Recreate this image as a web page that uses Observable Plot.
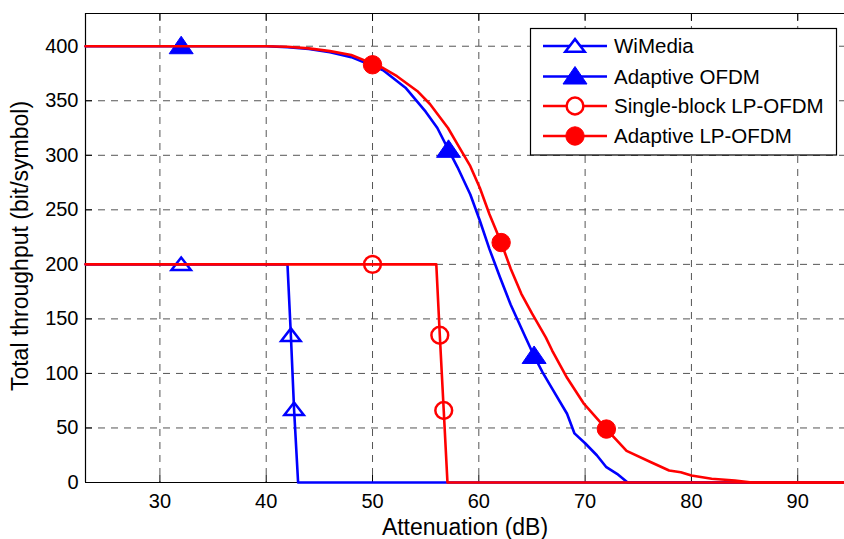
<!DOCTYPE html>
<html><head><meta charset="utf-8">
<script src="https://cdn.jsdelivr.net/npm/d3@7"></script>
<script src="https://cdn.jsdelivr.net/npm/@observablehq/plot@0.6"></script>
<style>
html,body{margin:0;padding:0;background:#fff;overflow:hidden;}
#wrap{position:relative;width:844px;height:539px;overflow:hidden;}
#legend{position:absolute;left:0;top:0;}
</style></head><body><div id="wrap"></div>
<script>
// ---- axes ----
const xDomain = [23, 94.4];
const yDomain = [0, 430];
const xTicks = [30, 40, 50, 60, 70, 80, 90];
const yTicks = [0, 50, 100, 150, 200, 250, 300, 350, 400];
const xLabel = "Attenuation (dB)";
const yLabel = "Total throughput (bit/symbol)";

// ---- series ----
const seriesNames = ["WiMedia", "Adaptive OFDM", "Single-block LP-OFDM", "Adaptive LP-OFDM"];
const seriesColors = ["#0000ff", "#0000ff", "#ff0000", "#ff0000"];
const seriesMarkers = ["triOpen", "triFilled", "circOpen", "circFilled"];

// WiMedia
const wimediaX = [23, 42, 42.32, 42.62, 43, 95];
const wimediaY = [200, 200, 135, 67, 0, 0];
const wimediaMarkX = [32, 42.32, 42.62];
const wimediaMarkY = [200, 135, 67];

// Adaptive OFDM
const adaptOfdmX = [23, 40, 42, 44, 46, 48, 50, 51, 53.1, 55, 56.1, 57.15, 58, 59.2, 60.1, 61, 62, 63, 64.4, 65.2, 66, 66.9, 68.3, 69, 70, 71.1, 72, 73, 74, 95];
const adaptOfdmY = [400, 400, 399, 397.5, 394.5, 390, 382, 378, 362, 340, 325, 305, 289, 264, 240, 214, 188, 163, 133, 116, 101, 86, 63, 45, 36, 25, 14, 8, 0, 0];
const adaptOfdmMarkX = [32, 57.15, 65.2];
const adaptOfdmMarkY = [400, 305, 116];

// Single-block LP-OFDM
const singleLpX = [23, 56, 56.33, 56.7, 57.05, 95];
const singleLpY = [200, 200, 135, 66, 0, 0];
const singleLpMarkX = [50, 56.33, 56.7];
const singleLpMarkY = [200, 135, 66];

// Adaptive LP-OFDM
const adaptLpX = [23, 40, 42, 44, 46, 48, 50, 51, 52.3, 54.2, 55.4, 57.1, 58, 59.2, 60.1, 61, 62.1, 63, 64, 65, 66.3, 66.9, 68.3, 69.9, 72, 73.9, 76.2, 77.9, 79, 80, 81.9, 84.1, 85.7, 95];
const adaptLpY = [400, 400, 399.5, 398, 395.5, 392, 384, 380, 372.5, 359, 347, 325, 310, 290, 270, 246, 220, 196, 173, 155, 133, 121, 96, 72, 49, 29, 18.6, 11, 9.4, 6.4, 3.4, 1.8, 0, 0];
const adaptLpMarkX = [50, 62.1, 72];
const adaptLpMarkY = [383, 220, 49];

const zip = (xs, ys) => xs.map((x, i) => ({x, y: ys[i]}));
const lines = [zip(wimediaX, wimediaY), zip(adaptOfdmX, adaptOfdmY), zip(singleLpX, singleLpY), zip(adaptLpX, adaptLpY)];
const marks = [zip(wimediaMarkX, wimediaMarkY), zip(adaptOfdmMarkX, adaptOfdmMarkY), zip(singleLpMarkX, singleLpMarkY), zip(adaptLpMarkX, adaptLpMarkY)];

// ---- marker symbols ----
const triOpenSym = {draw(ctx, size) { const r = Math.sqrt(size / Math.PI);
  ctx.moveTo(0, -r * 0.85); ctx.lineTo(r * 1.2, r * 0.7); ctx.lineTo(-r * 1.2, r * 0.7); ctx.closePath(); }};
const triFilledSym = {draw(ctx, size) { const r = Math.sqrt(size / Math.PI);
  ctx.moveTo(0, -r * 1.0); ctx.lineTo(r * 1.2, r * 0.75); ctx.lineTo(-r * 1.2, r * 0.75); ctx.closePath(); }};
const markerStyle = {
  triOpen:   {symbol: triOpenSym, r: 8.1, strokeWidth: 2.5},
  triFilled: {symbol: triFilledSym, r: 10, strokeWidth: 1, filled: true},
  circOpen:  {symbol: "circle", r: 8.4, strokeWidth: 2.5},
  circFilled:{symbol: "circle", r: 9.2, strokeWidth: 1, filled: true}
};

const font = "'Liberation Sans', Arial, Helvetica, sans-serif";
const dataMarks = [];
lines.forEach((ln, i) => {
  const c = seriesColors[i];
  dataMarks.push(Plot.line(ln, {x: "x", y: "y", stroke: c, strokeWidth: 2.6, strokeLinejoin: "round"}));
  const ms = markerStyle[seriesMarkers[i]];
  dataMarks.push(Plot.dot(marks[i], {x: "x", y: "y", symbol: ms.symbol, r: ms.r, stroke: c, strokeWidth: ms.strokeWidth,
    fill: ms.filled ? c : "none"}));
});

const chart = Plot.plot({
  width: 844, height: 539,
  marginLeft: 85, marginRight: 0, marginTop: 13, marginBottom: 57,
  x: {domain: xDomain},
  y: {domain: yDomain},
  style: {fontFamily: font, fontSize: "20px", color: "black", background: "white", overflow: "visible"},
  marks: [
    // grid
    Plot.ruleX(xTicks, {x: d => d, stroke: "#555", strokeWidth: 1, strokeDasharray: "7,6"}),
    Plot.ruleY(yTicks.filter(d => d > 0), {y: d => d, stroke: "#555", strokeWidth: 1, strokeDasharray: "7,6"}),
    // axis lines / box
    Plot.ruleX([xDomain[0]], {x: d => d, stroke: "black", strokeWidth: 1.2}),
    Plot.ruleY(yDomain, {y: d => d, stroke: "black", strokeWidth: 1.2}),
    // inward ticks
    Plot.axisX(xTicks, {anchor: "bottom", tickSize: 7, dy: -7, tickFormat: () => "", label: null, stroke: "black"}),
    Plot.axisX(xTicks, {anchor: "top", tickSize: 7, dy: 7, tickFormat: () => "", label: null, stroke: "black"}),
    Plot.axisY(yTicks, {anchor: "left", tickSize: 7, dx: 7, tickFormat: () => "", label: null, stroke: "black"}),
    // tick labels
    Plot.axisX(xTicks, {anchor: "bottom", tickSize: 0, tickPadding: 11, label: null, fontSize: 20, fill: "black"}),
    Plot.axisY(yTicks, {anchor: "left", tickSize: 0, tickPadding: 7, label: null, fontSize: 20, fill: "black"}),
    // axis titles
    Plot.text([xLabel], {text: d => d, frameAnchor: "bottom", textAnchor: "middle", lineAnchor: "middle", dy: 45.2, fontSize: 23, fill: "black"}),
    Plot.text([yLabel], {text: d => d, frameAnchor: "left", textAnchor: "middle", lineAnchor: "middle", rotate: -90, dx: -64.4, dy: -2, fontSize: 23, fill: "black"}),
    ...dataMarks
  ]
});
document.getElementById("wrap").appendChild(chart);

// ---- legend (inside the axes, upper right) ----
const lg = d3.select("#wrap").append("svg").attr("id", "legend").attr("width", 844).attr("height", 539);
lg.append("rect").attr("x", 530.5).attr("y", 28.5).attr("width", 306).attr("height", 126.5)
  .attr("fill", "white").attr("stroke", "black").attr("stroke-width", 1.2);
const rowY = [46, 76.5, 106, 136];
seriesNames.forEach((name, i) => {
  const c = seriesColors[i], y = rowY[i], kind = seriesMarkers[i];
  const g = lg.append("g");
  g.append("line").attr("x1", 543).attr("x2", 607).attr("y1", y).attr("y2", y)
    .attr("stroke", c).attr("stroke-width", 2.6);
  const ms = markerStyle[kind];
  const sym = d3.symbol(ms.symbol === "circle" ? d3.symbolCircle : ms.symbol, ms.r * ms.r * Math.PI);
  g.append("path").attr("d", sym()).attr("transform", `translate(575,${y})`)
    .attr("stroke", c).attr("stroke-width", ms.strokeWidth)
    .attr("fill", ms.filled ? c : "white");
  g.append("text").attr("x", 614).attr("y", y).attr("dy", "0.35em")
    .attr("font-family", font).attr("font-size", 20.5).attr("fill", "black").text(name);
});
</script></body></html>
